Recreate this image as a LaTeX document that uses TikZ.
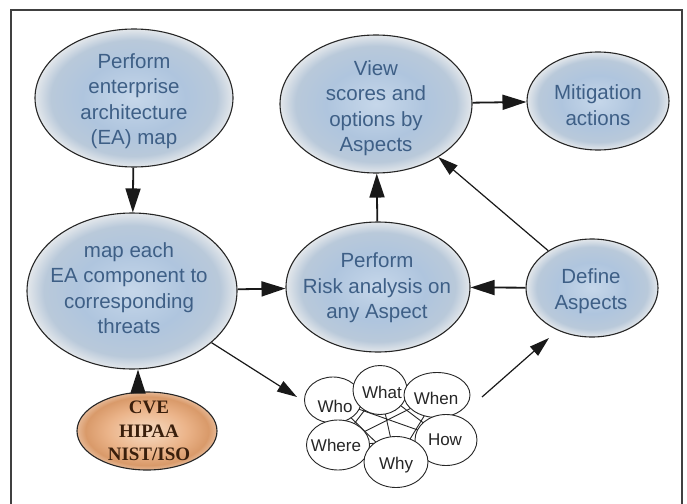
\documentclass[tikz,border=0pt]{standalone}
\usepackage{fontspec}
\setmainfont{Liberation Serif}
\newfontfamily\sansfont{Liberation Sans}
\usetikzlibrary{shapes.geometric,arrows.meta}

% colours
\definecolor{bfA}{HTML}{C6D7EA}
\definecolor{bfB}{HTML}{AFC5DE}
\definecolor{bfC}{HTML}{B9C9DA}
\definecolor{bfD}{HTML}{E3E7EB}
\definecolor{ofA}{HTML}{F7DCC4}
\definecolor{ofB}{HTML}{EBB48A}
\definecolor{ofC}{HTML}{D99A6A}
\definecolor{ofD}{HTML}{E6B895}
\definecolor{txtblue}{HTML}{3E5F86}
\definecolor{cvetxt}{HTML}{3A1F0C}
\definecolor{outl}{HTML}{262626}

\pgfdeclareradialshading{bluefill}{\pgfpoint{0bp}{0bp}}{%
  color(0bp)=(bfA); color(13bp)=(bfB); color(21bp)=(bfC);
  color(25bp)=(bfD); color(50bp)=(bfD)}
\pgfdeclareradialshading{orangefill}{\pgfpoint{0bp}{0bp}}{%
  color(0bp)=(ofA); color(14bp)=(ofB); color(22bp)=(ofC);
  color(25bp)=(ofD); color(50bp)=(ofD)}

\pgfdeclarelayer{back}
\pgfsetlayers{back,main}

\begin{document}
\begin{tikzpicture}[x=1pt,y=-1pt,
  blob/.style={ellipse, draw=outl, line width=1.1pt, shading=bluefill, inner sep=0pt},
  blobtext/.style={font=\sansfont\fontsize{20.5}{25.5}\selectfont, text=txtblue, align=center, inner sep=0pt},
  cveblob/.style={ellipse, draw=outl, line width=1.1pt, shading=orangefill, inner sep=0pt},
  cvetext/.style={font=\bfseries\fontsize{19}{23.5}\selectfont, text=cvetxt, align=center, inner sep=0pt},
  wbub/.style={ellipse, draw=outl, fill=white, line width=0.9pt, inner sep=0pt},
  wtext/.style={font=\sansfont\fontsize{17}{20}\selectfont, text=black!85, inner sep=0pt},
  bigarrow/.style={line width=1.8pt, draw=black!90, -{Triangle[length=24pt,width=15pt]}},
  thinarrow/.style={line width=1.2pt, draw=black!90, -{Triangle[length=20pt,width=12pt]}},
  mesh/.style={line width=0.9pt, draw=black!85}
]
\useasboundingbox (0,0) rectangle (687,503);

\begin{pgfonlayer}{back}
  \fill[white] (0,0) rectangle (687,503);
\end{pgfonlayer}

% outer frame (open at the bottom)
\draw[line width=1.1pt, black!75] (11,520) -- (11,10) -- (682,10) -- (682,520);

% main process ellipses
\node[blob, minimum width=198pt, minimum height=138pt] (ea)   at (134,98)  {};
\node[blob, minimum width=192pt, minimum height=138pt] (view) at (376,104) {};
\node[blob, minimum width=142pt, minimum height=98pt]  (mit)  at (598,101) {};
\node[blob, minimum width=210pt, minimum height=156pt] (map)  at (132,291) {};
\node[blob, minimum width=184pt, minimum height=130pt] (risk) at (378,287) {};
\node[blob, minimum width=132pt, minimum height=98pt]  (def)  at (592,288) {};
\node[cveblob, minimum width=140pt, minimum height=78pt] (cve) at (147,431) {};

\node[blobtext] (ea-t)   at (134,101) {Perform\\enterprise\\architecture\\(EA) map};
\node[blobtext] (view-t) at (376,108) {View\\scores and\\options by\\Aspects};
\node[blobtext] (mit-t)  at (598,105) {Mitigation\\actions};
\node[blobtext] (map-t)  at (129,288) {map each\\EA component to\\corresponding\\threats};
\node[blobtext] (risk-t) at (377,288) {Perform\\Risk analysis on\\any Aspect};
\node[blobtext] (def-t)  at (591,291) {Define\\Aspects};
\node[cvetext]  (cve-t)  at (149,431) {CVE\\HIPAA\\NIST/ISO};

% the six question bubbles
\node[wbub, minimum width=57pt, minimum height=46pt] (who)   at (333,400) {};
\node[wbub, minimum width=54pt, minimum height=49pt] (what)  at (380,390) {};
\node[wbub, minimum width=66pt, minimum height=45pt] (when)  at (437,395) {};
\node[wbub, minimum width=63pt, minimum height=50pt] (where) at (338,445) {};
\node[wbub, minimum width=62pt, minimum height=51pt] (how)   at (446,440) {};
\node[wbub, minimum width=64pt, minimum height=51pt] (why)   at (396,462) {};

\node[wtext] (who-t)   at (335,406) {Who};
\node[wtext] (what-t)  at (382,392) {What};
\node[wtext] (when-t)  at (436,398) {When};
\node[wtext] (where-t) at (336,445) {Where};
\node[wtext] (how-t)   at (445,440) {How};
\node[wtext] (why-t)   at (396,465) {Why};

% web of links between the bubbles, kept underneath them
\begin{pgfonlayer}{back}
  \foreach \a/\b in {who/what,who/when,who/where,who/how,who/why,
                     what/when,what/where,what/how,what/why,
                     when/where,when/how,when/why,
                     where/how,where/why,how/why}
    \draw[mesh] (\a.center) -- (\b.center);
\end{pgfonlayer}

% free ends near the bubble group
\coordinate (grp-in)  at (297,397);
\coordinate (grp-out) at (482,397);
\coordinate (def-in)  at (549,338);

% connectors
\draw[bigarrow] (ea) -- (map);
\draw[bigarrow] (map) -- (risk);
\draw[bigarrow] (risk) -- (view);
\draw[bigarrow] (view) -- (mit);
\draw[bigarrow] (def) -- (risk);
\draw[bigarrow] ([xshift=-9pt]cve.north) -- ([xshift=6pt]map.south);
\draw[thinarrow] (def) -- (view);
\draw[thinarrow] (map.-33) -- (grp-in);
\draw[thinarrow] (grp-out) -- (def-in);
\end{tikzpicture}
\end{document}
